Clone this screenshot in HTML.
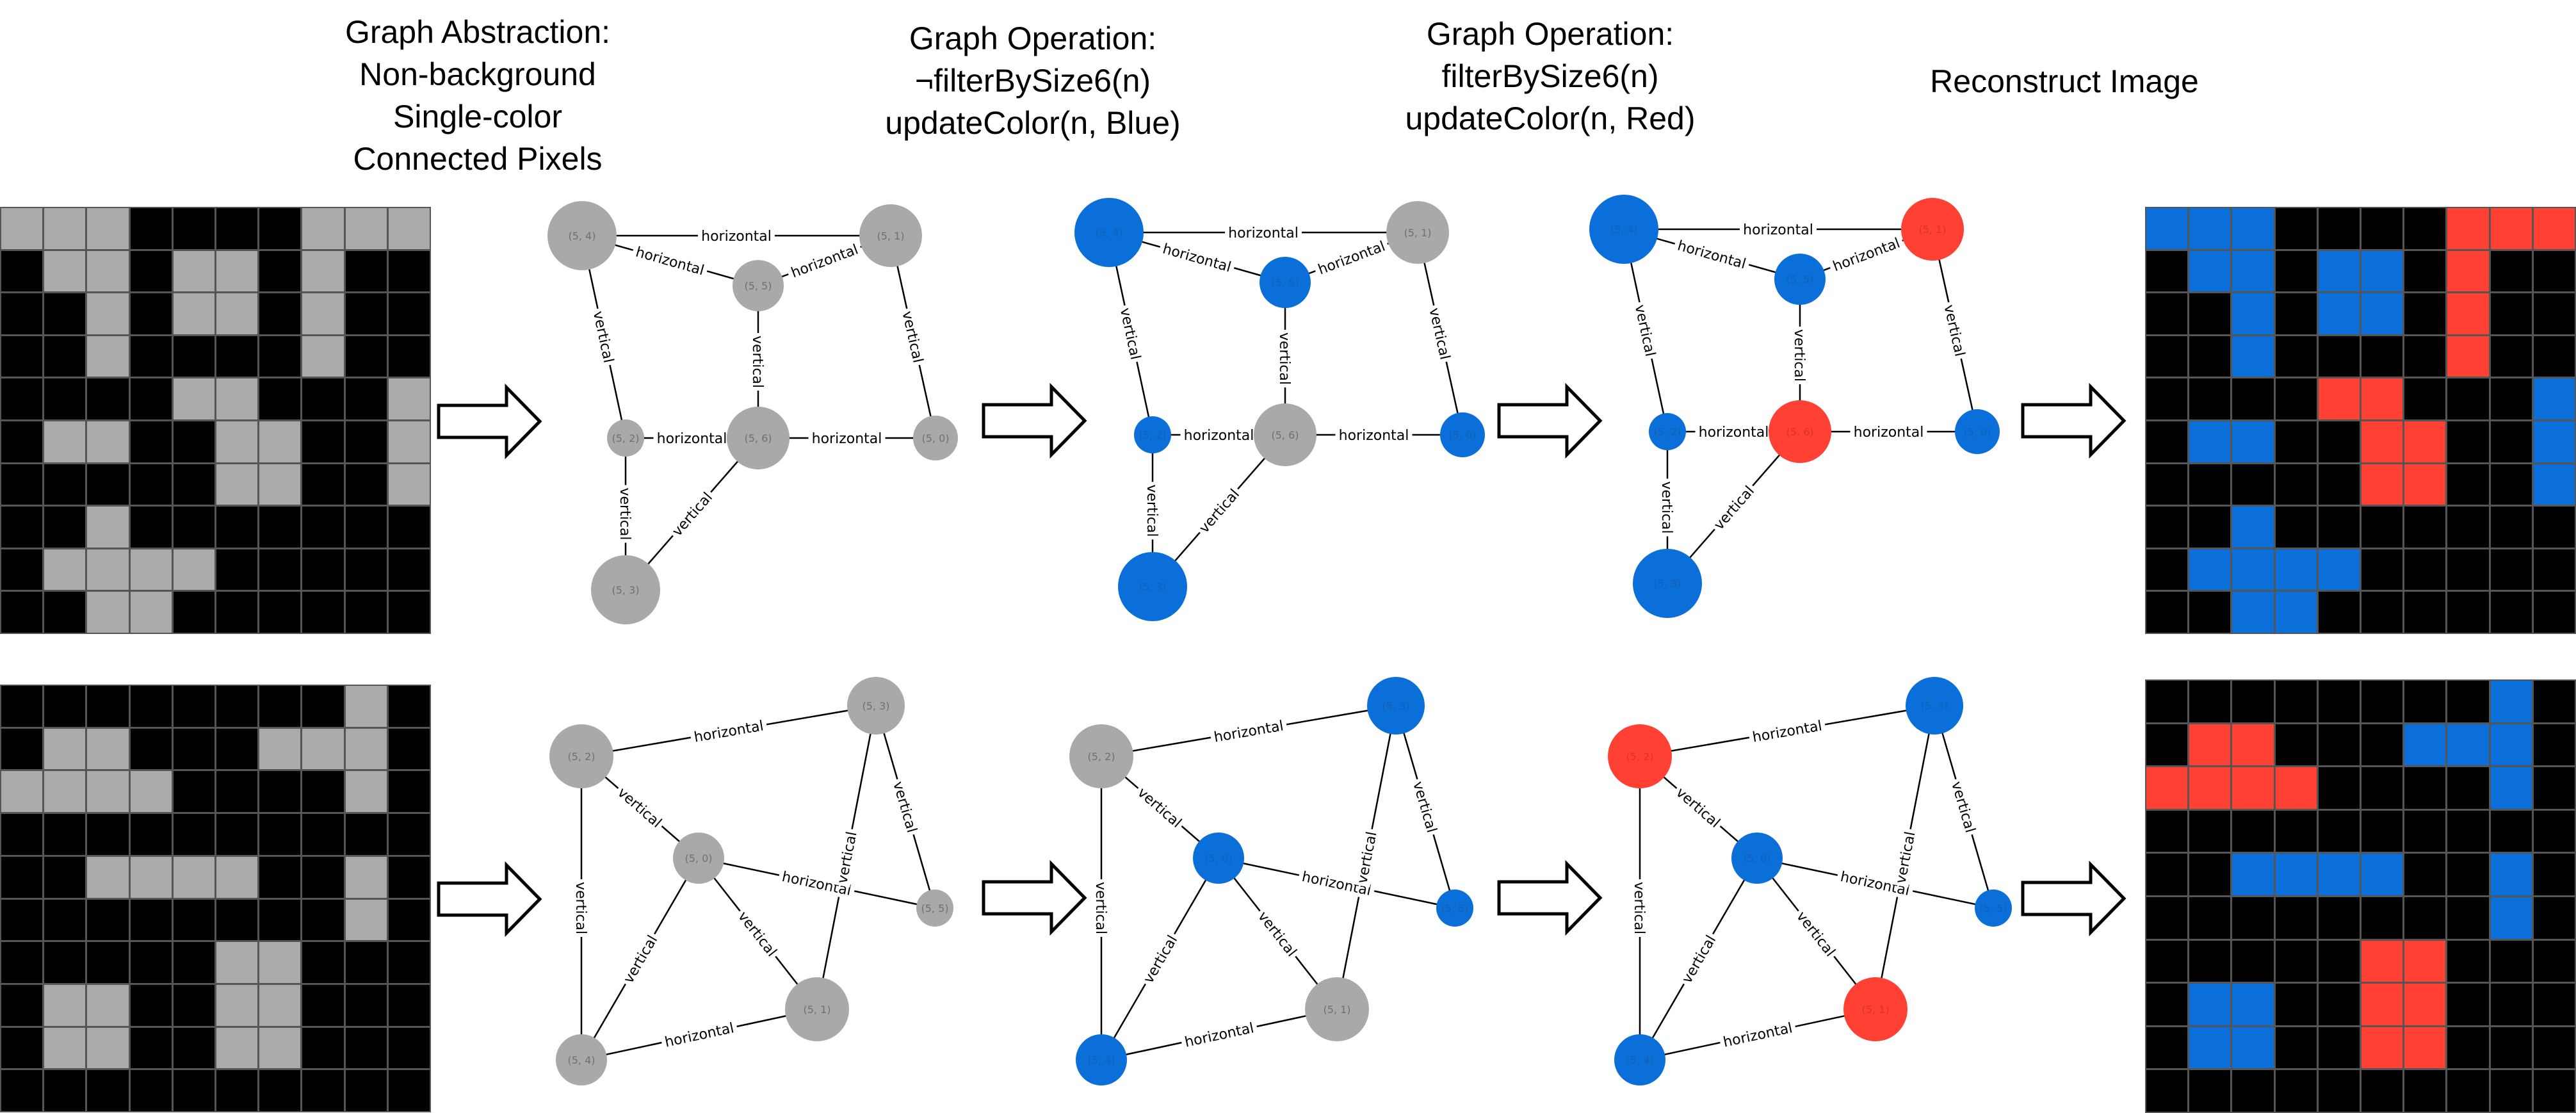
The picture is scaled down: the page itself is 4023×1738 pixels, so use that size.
<!DOCTYPE html>
<html><head><meta charset="utf-8"><style>
body{margin:0;width:4023px;height:1738px;background:#fff;position:relative;overflow:hidden;font-family:"Liberation Sans",Arial,sans-serif}
.t{position:absolute;font-size:50px;line-height:66px;text-align:center;color:#000;white-space:nowrap;transform:translateX(-50%)}
.g{position:absolute;display:grid;grid-template-columns:repeat(10,1fr);grid-template-rows:repeat(10,1fr);gap:3px;background:#555;padding:2px;box-sizing:border-box}
.g i{display:block}
.z{background:#000}.a{background:#aaa}.b{background:#0a6fd8}.r{background:#ff4033}
svg{position:absolute;left:0;top:0}
svg text{font-family:"DejaVu Sans",sans-serif}
.el{font-size:22px;text-anchor:middle;fill:#000}
.nl{font-size:16px;text-anchor:middle}
</style></head><body>
<div class="t" style="left:746px;top:17px">Graph Abstraction:<br>Non-background<br>Single-color<br>Connected Pixels</div>
<div class="t" style="left:1613px;top:27px">Graph Operation:<br>¬filterBySize6(n)<br>updateColor(n, Blue)</div>
<div class="t" style="left:2421px;top:20px">Graph Operation:<br>filterBySize6(n)<br>updateColor(n, Red)</div>
<div class="t" style="left:3224px;top:94px">Reconstruct Image</div>

<div class="g" style="left:0;top:323px;width:673px;height:667px">
<i class=a></i><i class=a></i><i class=a></i><i class=z></i><i class=z></i><i class=z></i><i class=z></i><i class=a></i><i class=a></i><i class=a></i>
<i class=z></i><i class=a></i><i class=a></i><i class=z></i><i class=a></i><i class=a></i><i class=z></i><i class=a></i><i class=z></i><i class=z></i>
<i class=z></i><i class=z></i><i class=a></i><i class=z></i><i class=a></i><i class=a></i><i class=z></i><i class=a></i><i class=z></i><i class=z></i>
<i class=z></i><i class=z></i><i class=a></i><i class=z></i><i class=z></i><i class=z></i><i class=z></i><i class=a></i><i class=z></i><i class=z></i>
<i class=z></i><i class=z></i><i class=z></i><i class=z></i><i class=a></i><i class=a></i><i class=z></i><i class=z></i><i class=z></i><i class=a></i>
<i class=z></i><i class=a></i><i class=a></i><i class=z></i><i class=z></i><i class=a></i><i class=a></i><i class=z></i><i class=z></i><i class=a></i>
<i class=z></i><i class=z></i><i class=z></i><i class=z></i><i class=z></i><i class=a></i><i class=a></i><i class=z></i><i class=z></i><i class=a></i>
<i class=z></i><i class=z></i><i class=a></i><i class=z></i><i class=z></i><i class=z></i><i class=z></i><i class=z></i><i class=z></i><i class=z></i>
<i class=z></i><i class=a></i><i class=a></i><i class=a></i><i class=a></i><i class=z></i><i class=z></i><i class=z></i><i class=z></i><i class=z></i>
<i class=z></i><i class=z></i><i class=a></i><i class=a></i><i class=z></i><i class=z></i><i class=z></i><i class=z></i><i class=z></i><i class=z></i>
</div>

<div class="g" style="left:3350px;top:323px;width:673px;height:667px">
<i class=b></i><i class=b></i><i class=b></i><i class=z></i><i class=z></i><i class=z></i><i class=z></i><i class=r></i><i class=r></i><i class=r></i>
<i class=z></i><i class=b></i><i class=b></i><i class=z></i><i class=b></i><i class=b></i><i class=z></i><i class=r></i><i class=z></i><i class=z></i>
<i class=z></i><i class=z></i><i class=b></i><i class=z></i><i class=b></i><i class=b></i><i class=z></i><i class=r></i><i class=z></i><i class=z></i>
<i class=z></i><i class=z></i><i class=b></i><i class=z></i><i class=z></i><i class=z></i><i class=z></i><i class=r></i><i class=z></i><i class=z></i>
<i class=z></i><i class=z></i><i class=z></i><i class=z></i><i class=r></i><i class=r></i><i class=z></i><i class=z></i><i class=z></i><i class=b></i>
<i class=z></i><i class=b></i><i class=b></i><i class=z></i><i class=z></i><i class=r></i><i class=r></i><i class=z></i><i class=z></i><i class=b></i>
<i class=z></i><i class=z></i><i class=z></i><i class=z></i><i class=z></i><i class=r></i><i class=r></i><i class=z></i><i class=z></i><i class=b></i>
<i class=z></i><i class=z></i><i class=b></i><i class=z></i><i class=z></i><i class=z></i><i class=z></i><i class=z></i><i class=z></i><i class=z></i>
<i class=z></i><i class=b></i><i class=b></i><i class=b></i><i class=b></i><i class=z></i><i class=z></i><i class=z></i><i class=z></i><i class=z></i>
<i class=z></i><i class=z></i><i class=b></i><i class=b></i><i class=z></i><i class=z></i><i class=z></i><i class=z></i><i class=z></i><i class=z></i>
</div>

<div class="g" style="left:0;top:1069px;width:673px;height:668px">
<i class=z></i><i class=z></i><i class=z></i><i class=z></i><i class=z></i><i class=z></i><i class=z></i><i class=z></i><i class=a></i><i class=z></i>
<i class=z></i><i class=a></i><i class=a></i><i class=z></i><i class=z></i><i class=z></i><i class=a></i><i class=a></i><i class=a></i><i class=z></i>
<i class=a></i><i class=a></i><i class=a></i><i class=a></i><i class=z></i><i class=z></i><i class=z></i><i class=z></i><i class=a></i><i class=z></i>
<i class=z></i><i class=z></i><i class=z></i><i class=z></i><i class=z></i><i class=z></i><i class=z></i><i class=z></i><i class=z></i><i class=z></i>
<i class=z></i><i class=z></i><i class=a></i><i class=a></i><i class=a></i><i class=a></i><i class=z></i><i class=z></i><i class=a></i><i class=z></i>
<i class=z></i><i class=z></i><i class=z></i><i class=z></i><i class=z></i><i class=z></i><i class=z></i><i class=z></i><i class=a></i><i class=z></i>
<i class=z></i><i class=z></i><i class=z></i><i class=z></i><i class=z></i><i class=a></i><i class=a></i><i class=z></i><i class=z></i><i class=z></i>
<i class=z></i><i class=a></i><i class=a></i><i class=z></i><i class=z></i><i class=a></i><i class=a></i><i class=z></i><i class=z></i><i class=z></i>
<i class=z></i><i class=a></i><i class=a></i><i class=z></i><i class=z></i><i class=a></i><i class=a></i><i class=z></i><i class=z></i><i class=z></i>
<i class=z></i><i class=z></i><i class=z></i><i class=z></i><i class=z></i><i class=z></i><i class=z></i><i class=z></i><i class=z></i><i class=z></i>
</div>

<div class="g" style="left:3350px;top:1061px;width:673px;height:677px">
<i class=z></i><i class=z></i><i class=z></i><i class=z></i><i class=z></i><i class=z></i><i class=z></i><i class=z></i><i class=b></i><i class=z></i>
<i class=z></i><i class=r></i><i class=r></i><i class=z></i><i class=z></i><i class=z></i><i class=b></i><i class=b></i><i class=b></i><i class=z></i>
<i class=r></i><i class=r></i><i class=r></i><i class=r></i><i class=z></i><i class=z></i><i class=z></i><i class=z></i><i class=b></i><i class=z></i>
<i class=z></i><i class=z></i><i class=z></i><i class=z></i><i class=z></i><i class=z></i><i class=z></i><i class=z></i><i class=z></i><i class=z></i>
<i class=z></i><i class=z></i><i class=b></i><i class=b></i><i class=b></i><i class=b></i><i class=z></i><i class=z></i><i class=b></i><i class=z></i>
<i class=z></i><i class=z></i><i class=z></i><i class=z></i><i class=z></i><i class=z></i><i class=z></i><i class=z></i><i class=b></i><i class=z></i>
<i class=z></i><i class=z></i><i class=z></i><i class=z></i><i class=z></i><i class=r></i><i class=r></i><i class=z></i><i class=z></i><i class=z></i>
<i class=z></i><i class=b></i><i class=b></i><i class=z></i><i class=z></i><i class=r></i><i class=r></i><i class=z></i><i class=z></i><i class=z></i>
<i class=z></i><i class=b></i><i class=b></i><i class=z></i><i class=z></i><i class=r></i><i class=r></i><i class=z></i><i class=z></i><i class=z></i>
<i class=z></i><i class=z></i><i class=z></i><i class=z></i><i class=z></i><i class=z></i><i class=z></i><i class=z></i><i class=z></i><i class=z></i>
</div>

<svg width="4023" height="1738" viewBox="0 0 4023 1738">
<!-- arrows -->
<g fill="#fff" stroke="#000" stroke-width="5" stroke-linejoin="miter">
<polygon transform="translate(685,658)" points="0,-25 106,-25 106,-53 158,0 106,53 106,25 0,25"/>
<polygon transform="translate(1536,657)" points="0,-25 106,-25 106,-53 158,0 106,53 106,25 0,25"/>
<polygon transform="translate(2341,657)" points="0,-25 106,-25 106,-53 158,0 106,53 106,25 0,25"/>
<polygon transform="translate(3159,657)" points="0,-25 106,-25 106,-53 158,0 106,53 106,25 0,25"/>
<polygon transform="translate(685,1404)" points="0,-25 106,-25 106,-53 158,0 106,53 106,25 0,25"/>
<polygon transform="translate(1536,1402)" points="0,-25 106,-25 106,-53 158,0 106,53 106,25 0,25"/>
<polygon transform="translate(2341,1402)" points="0,-25 106,-25 106,-53 158,0 106,53 106,25 0,25"/>
<polygon transform="translate(3159,1403)" points="0,-25 106,-25 106,-53 158,0 106,53 106,25 0,25"/>
</g>

<!-- TOP GRAPH 1 -->
<g>
<g stroke="#000" stroke-width="2.5">
<line x1="909" y1="368" x2="1391" y2="368"/><line x1="909" y1="368" x2="1184" y2="446"/><line x1="1184" y1="446" x2="1391" y2="368"/>
<line x1="909" y1="368" x2="977" y2="684"/><line x1="1184" y1="446" x2="1184" y2="684"/><line x1="1391" y1="368" x2="1461" y2="684"/>
<line x1="977" y1="684" x2="1184" y2="684"/><line x1="1184" y1="684" x2="1461" y2="684"/><line x1="977" y1="684" x2="977" y2="921"/><line x1="1184" y1="684" x2="977" y2="921"/>
</g>
<g transform="translate(1150,368)"><rect x="-60" y="-14" width="120" height="28" fill="#fff"/><text class="el" y="8">horizontal</text></g>
<g transform="translate(1046.5,407) rotate(15.8)"><rect x="-60" y="-14" width="120" height="28" fill="#fff"/><text class="el" y="8">horizontal</text></g>
<g transform="translate(1287.5,407) rotate(-20.6)"><rect x="-60" y="-14" width="120" height="28" fill="#fff"/><text class="el" y="8">horizontal</text></g>
<g transform="translate(943,526) rotate(77.9)"><rect x="-45" y="-14" width="90" height="28" fill="#fff"/><text class="el" y="8">vertical</text></g>
<g transform="translate(1184,565) rotate(90)"><rect x="-45" y="-14" width="90" height="28" fill="#fff"/><text class="el" y="8">vertical</text></g>
<g transform="translate(1426,526) rotate(77.5)"><rect x="-45" y="-14" width="90" height="28" fill="#fff"/><text class="el" y="8">vertical</text></g>
<g transform="translate(1080.5,684)"><rect x="-60" y="-14" width="120" height="28" fill="#fff"/><text class="el" y="8">horizontal</text></g>
<g transform="translate(1322.5,684)"><rect x="-60" y="-14" width="120" height="28" fill="#fff"/><text class="el" y="8">horizontal</text></g>
<g transform="translate(977,802.5) rotate(90)"><rect x="-45" y="-14" width="90" height="28" fill="#fff"/><text class="el" y="8">vertical</text></g>
<g transform="translate(1080.5,802.5) rotate(-48.9)"><rect x="-45" y="-14" width="90" height="28" fill="#fff"/><text class="el" y="8">vertical</text></g>
<circle cx="909" cy="368" r="54" fill="#a9a9a9"/><circle cx="1391" cy="368" r="49" fill="#a9a9a9"/><circle cx="1184" cy="446" r="40" fill="#a9a9a9"/>
<circle cx="977" cy="684" r="29" fill="#a9a9a9"/><circle cx="1184" cy="684" r="49" fill="#a9a9a9"/><circle cx="1461" cy="684" r="35" fill="#a9a9a9"/><circle cx="977" cy="921" r="54" fill="#a9a9a9"/>
<g fill="#707070"><text class="nl" x="909" y="374">(5, 4)</text><text class="nl" x="1391" y="374">(5, 1)</text><text class="nl" x="1184" y="452">(5, 5)</text><text class="nl" x="977" y="690">(5, 2)</text><text class="nl" x="1184" y="690">(5, 6)</text><text class="nl" x="1461" y="690">(5, 0)</text><text class="nl" x="977" y="927">(5, 3)</text></g>
</g>

<!-- TOP GRAPH 2 -->
<g transform="translate(823,-5)">
<g stroke="#000" stroke-width="2.5">
<line x1="909" y1="368" x2="1391" y2="368"/><line x1="909" y1="368" x2="1184" y2="446"/><line x1="1184" y1="446" x2="1391" y2="368"/>
<line x1="909" y1="368" x2="977" y2="684"/><line x1="1184" y1="446" x2="1184" y2="684"/><line x1="1391" y1="368" x2="1461" y2="684"/>
<line x1="977" y1="684" x2="1184" y2="684"/><line x1="1184" y1="684" x2="1461" y2="684"/><line x1="977" y1="684" x2="977" y2="921"/><line x1="1184" y1="684" x2="977" y2="921"/>
</g>
<g transform="translate(1150,368)"><rect x="-60" y="-14" width="120" height="28" fill="#fff"/><text class="el" y="8">horizontal</text></g>
<g transform="translate(1046.5,407) rotate(15.8)"><rect x="-60" y="-14" width="120" height="28" fill="#fff"/><text class="el" y="8">horizontal</text></g>
<g transform="translate(1287.5,407) rotate(-20.6)"><rect x="-60" y="-14" width="120" height="28" fill="#fff"/><text class="el" y="8">horizontal</text></g>
<g transform="translate(943,526) rotate(77.9)"><rect x="-45" y="-14" width="90" height="28" fill="#fff"/><text class="el" y="8">vertical</text></g>
<g transform="translate(1184,565) rotate(90)"><rect x="-45" y="-14" width="90" height="28" fill="#fff"/><text class="el" y="8">vertical</text></g>
<g transform="translate(1426,526) rotate(77.5)"><rect x="-45" y="-14" width="90" height="28" fill="#fff"/><text class="el" y="8">vertical</text></g>
<g transform="translate(1080.5,684)"><rect x="-60" y="-14" width="120" height="28" fill="#fff"/><text class="el" y="8">horizontal</text></g>
<g transform="translate(1322.5,684)"><rect x="-60" y="-14" width="120" height="28" fill="#fff"/><text class="el" y="8">horizontal</text></g>
<g transform="translate(977,802.5) rotate(90)"><rect x="-45" y="-14" width="90" height="28" fill="#fff"/><text class="el" y="8">vertical</text></g>
<g transform="translate(1080.5,802.5) rotate(-48.9)"><rect x="-45" y="-14" width="90" height="28" fill="#fff"/><text class="el" y="8">vertical</text></g>
<circle cx="909" cy="368" r="54" fill="#0a6fd8"/><circle cx="1391" cy="368" r="49" fill="#a9a9a9"/><circle cx="1184" cy="446" r="40" fill="#0a6fd8"/>
<circle cx="977" cy="684" r="29" fill="#0a6fd8"/><circle cx="1184" cy="684" r="49" fill="#a9a9a9"/><circle cx="1461" cy="684" r="35" fill="#0a6fd8"/><circle cx="977" cy="921" r="54" fill="#0a6fd8"/>
<g fill="#1560b0"><text class="nl" x="909" y="374">(5, 4)</text><text class="nl" x="1184" y="452">(5, 5)</text><text class="nl" x="977" y="690">(5, 2)</text><text class="nl" x="1461" y="690">(5, 0)</text><text class="nl" x="977" y="927">(5, 3)</text></g>
<g fill="#707070"><text class="nl" x="1391" y="374">(5, 1)</text><text class="nl" x="1184" y="690">(5, 6)</text></g>
</g>

<!-- TOP GRAPH 3 -->
<g transform="translate(1627,-10)">
<g stroke="#000" stroke-width="2.5">
<line x1="909" y1="368" x2="1391" y2="368"/><line x1="909" y1="368" x2="1184" y2="446"/><line x1="1184" y1="446" x2="1391" y2="368"/>
<line x1="909" y1="368" x2="977" y2="684"/><line x1="1184" y1="446" x2="1184" y2="684"/><line x1="1391" y1="368" x2="1461" y2="684"/>
<line x1="977" y1="684" x2="1184" y2="684"/><line x1="1184" y1="684" x2="1461" y2="684"/><line x1="977" y1="684" x2="977" y2="921"/><line x1="1184" y1="684" x2="977" y2="921"/>
</g>
<g transform="translate(1150,368)"><rect x="-60" y="-14" width="120" height="28" fill="#fff"/><text class="el" y="8">horizontal</text></g>
<g transform="translate(1046.5,407) rotate(15.8)"><rect x="-60" y="-14" width="120" height="28" fill="#fff"/><text class="el" y="8">horizontal</text></g>
<g transform="translate(1287.5,407) rotate(-20.6)"><rect x="-60" y="-14" width="120" height="28" fill="#fff"/><text class="el" y="8">horizontal</text></g>
<g transform="translate(943,526) rotate(77.9)"><rect x="-45" y="-14" width="90" height="28" fill="#fff"/><text class="el" y="8">vertical</text></g>
<g transform="translate(1184,565) rotate(90)"><rect x="-45" y="-14" width="90" height="28" fill="#fff"/><text class="el" y="8">vertical</text></g>
<g transform="translate(1426,526) rotate(77.5)"><rect x="-45" y="-14" width="90" height="28" fill="#fff"/><text class="el" y="8">vertical</text></g>
<g transform="translate(1080.5,684)"><rect x="-60" y="-14" width="120" height="28" fill="#fff"/><text class="el" y="8">horizontal</text></g>
<g transform="translate(1322.5,684)"><rect x="-60" y="-14" width="120" height="28" fill="#fff"/><text class="el" y="8">horizontal</text></g>
<g transform="translate(977,802.5) rotate(90)"><rect x="-45" y="-14" width="90" height="28" fill="#fff"/><text class="el" y="8">vertical</text></g>
<g transform="translate(1080.5,802.5) rotate(-48.9)"><rect x="-45" y="-14" width="90" height="28" fill="#fff"/><text class="el" y="8">vertical</text></g>
<circle cx="909" cy="368" r="54" fill="#0a6fd8"/><circle cx="1391" cy="368" r="49" fill="#ff4033"/><circle cx="1184" cy="446" r="40" fill="#0a6fd8"/>
<circle cx="977" cy="684" r="29" fill="#0a6fd8"/><circle cx="1184" cy="684" r="49" fill="#ff4033"/><circle cx="1461" cy="684" r="35" fill="#0a6fd8"/><circle cx="977" cy="921" r="54" fill="#0a6fd8"/>
<g fill="#1560b0"><text class="nl" x="909" y="374">(5, 4)</text><text class="nl" x="1184" y="452">(5, 5)</text><text class="nl" x="977" y="690">(5, 2)</text><text class="nl" x="1461" y="690">(5, 0)</text><text class="nl" x="977" y="927">(5, 3)</text></g>
<g fill="#d6352b"><text class="nl" x="1391" y="374">(5, 1)</text><text class="nl" x="1184" y="690">(5, 6)</text></g>
</g>

<!-- BOTTOM GRAPH 1 -->
<g>
<g stroke="#000" stroke-width="2.5">
<line x1="908" y1="1181" x2="1368" y2="1102"/><line x1="908" y1="1181" x2="1091" y2="1340"/><line x1="908" y1="1181" x2="908" y2="1655"/>
<line x1="1368" y1="1102" x2="1276" y2="1576"/><line x1="1368" y1="1102" x2="1460" y2="1418"/><line x1="1091" y1="1340" x2="1460" y2="1418"/>
<line x1="1091" y1="1340" x2="908" y2="1655"/><line x1="1091" y1="1340" x2="1276" y2="1576"/><line x1="908" y1="1655" x2="1276" y2="1576"/>
</g>
<g transform="translate(1138,1141.5) rotate(-9.7)"><rect x="-60" y="-14" width="120" height="28" fill="#fff"/><text class="el" y="8">horizontal</text></g>
<g transform="translate(999.5,1260.5) rotate(41)"><rect x="-45" y="-14" width="90" height="28" fill="#fff"/><text class="el" y="8">vertical</text></g>
<g transform="translate(908,1418) rotate(90)"><rect x="-45" y="-14" width="90" height="28" fill="#fff"/><text class="el" y="8">vertical</text></g>
<g transform="translate(1275.5,1379) rotate(11.9)"><rect x="-60" y="-14" width="120" height="28" fill="#fff"/><text class="el" y="8">horizontal</text></g>
<g transform="translate(1322,1339) rotate(-79)"><rect x="-45" y="-14" width="90" height="28" fill="#fff"/><text class="el" y="8">vertical</text></g>
<g transform="translate(1414,1260) rotate(73.8)"><rect x="-45" y="-14" width="90" height="28" fill="#fff"/><text class="el" y="8">vertical</text></g>
<g transform="translate(999.5,1497.5) rotate(-59.8)"><rect x="-45" y="-14" width="90" height="28" fill="#fff"/><text class="el" y="8">vertical</text></g>
<g transform="translate(1183.5,1458) rotate(51.9)"><rect x="-45" y="-14" width="90" height="28" fill="#fff"/><text class="el" y="8">vertical</text></g>
<g transform="translate(1092,1615.5) rotate(-12.1)"><rect x="-60" y="-14" width="120" height="28" fill="#fff"/><text class="el" y="8">horizontal</text></g>
<circle cx="1368" cy="1102" r="45" fill="#a9a9a9"/><circle cx="908" cy="1181" r="50" fill="#a9a9a9"/><circle cx="1091" cy="1340" r="40" fill="#a9a9a9"/>
<circle cx="1460" cy="1418" r="29" fill="#a9a9a9"/><circle cx="1276" cy="1576" r="50" fill="#a9a9a9"/><circle cx="908" cy="1655" r="40" fill="#a9a9a9"/>
<g fill="#707070"><text class="nl" x="1368" y="1108">(5, 3)</text><text class="nl" x="908" y="1187">(5, 2)</text><text class="nl" x="1091" y="1346">(5, 0)</text><text class="nl" x="1460" y="1424">(5, 5)</text><text class="nl" x="1276" y="1582">(5, 1)</text><text class="nl" x="908" y="1661">(5, 4)</text></g>
</g>

<!-- BOTTOM GRAPH 2 -->
<g transform="translate(812,0)">
<g stroke="#000" stroke-width="2.5">
<line x1="908" y1="1181" x2="1368" y2="1102"/><line x1="908" y1="1181" x2="1091" y2="1340"/><line x1="908" y1="1181" x2="908" y2="1655"/>
<line x1="1368" y1="1102" x2="1276" y2="1576"/><line x1="1368" y1="1102" x2="1460" y2="1418"/><line x1="1091" y1="1340" x2="1460" y2="1418"/>
<line x1="1091" y1="1340" x2="908" y2="1655"/><line x1="1091" y1="1340" x2="1276" y2="1576"/><line x1="908" y1="1655" x2="1276" y2="1576"/>
</g>
<g transform="translate(1138,1141.5) rotate(-9.7)"><rect x="-60" y="-14" width="120" height="28" fill="#fff"/><text class="el" y="8">horizontal</text></g>
<g transform="translate(999.5,1260.5) rotate(41)"><rect x="-45" y="-14" width="90" height="28" fill="#fff"/><text class="el" y="8">vertical</text></g>
<g transform="translate(908,1418) rotate(90)"><rect x="-45" y="-14" width="90" height="28" fill="#fff"/><text class="el" y="8">vertical</text></g>
<g transform="translate(1275.5,1379) rotate(11.9)"><rect x="-60" y="-14" width="120" height="28" fill="#fff"/><text class="el" y="8">horizontal</text></g>
<g transform="translate(1322,1339) rotate(-79)"><rect x="-45" y="-14" width="90" height="28" fill="#fff"/><text class="el" y="8">vertical</text></g>
<g transform="translate(1414,1260) rotate(73.8)"><rect x="-45" y="-14" width="90" height="28" fill="#fff"/><text class="el" y="8">vertical</text></g>
<g transform="translate(999.5,1497.5) rotate(-59.8)"><rect x="-45" y="-14" width="90" height="28" fill="#fff"/><text class="el" y="8">vertical</text></g>
<g transform="translate(1183.5,1458) rotate(51.9)"><rect x="-45" y="-14" width="90" height="28" fill="#fff"/><text class="el" y="8">vertical</text></g>
<g transform="translate(1092,1615.5) rotate(-12.1)"><rect x="-60" y="-14" width="120" height="28" fill="#fff"/><text class="el" y="8">horizontal</text></g>
<circle cx="1368" cy="1102" r="45" fill="#0a6fd8"/><circle cx="908" cy="1181" r="50" fill="#a9a9a9"/><circle cx="1091" cy="1340" r="40" fill="#0a6fd8"/>
<circle cx="1460" cy="1418" r="29" fill="#0a6fd8"/><circle cx="1276" cy="1576" r="50" fill="#a9a9a9"/><circle cx="908" cy="1655" r="40" fill="#0a6fd8"/>
<g fill="#1560b0"><text class="nl" x="1368" y="1108">(5, 3)</text><text class="nl" x="1091" y="1346">(5, 0)</text><text class="nl" x="1460" y="1424">(5, 5)</text><text class="nl" x="908" y="1661">(5, 4)</text></g>
<g fill="#707070"><text class="nl" x="908" y="1187">(5, 2)</text><text class="nl" x="1276" y="1582">(5, 1)</text></g>
</g>

<!-- BOTTOM GRAPH 3 -->
<g transform="translate(1653,0)">
<g stroke="#000" stroke-width="2.5">
<line x1="908" y1="1181" x2="1368" y2="1102"/><line x1="908" y1="1181" x2="1091" y2="1340"/><line x1="908" y1="1181" x2="908" y2="1655"/>
<line x1="1368" y1="1102" x2="1276" y2="1576"/><line x1="1368" y1="1102" x2="1460" y2="1418"/><line x1="1091" y1="1340" x2="1460" y2="1418"/>
<line x1="1091" y1="1340" x2="908" y2="1655"/><line x1="1091" y1="1340" x2="1276" y2="1576"/><line x1="908" y1="1655" x2="1276" y2="1576"/>
</g>
<g transform="translate(1138,1141.5) rotate(-9.7)"><rect x="-60" y="-14" width="120" height="28" fill="#fff"/><text class="el" y="8">horizontal</text></g>
<g transform="translate(999.5,1260.5) rotate(41)"><rect x="-45" y="-14" width="90" height="28" fill="#fff"/><text class="el" y="8">vertical</text></g>
<g transform="translate(908,1418) rotate(90)"><rect x="-45" y="-14" width="90" height="28" fill="#fff"/><text class="el" y="8">vertical</text></g>
<g transform="translate(1275.5,1379) rotate(11.9)"><rect x="-60" y="-14" width="120" height="28" fill="#fff"/><text class="el" y="8">horizontal</text></g>
<g transform="translate(1322,1339) rotate(-79)"><rect x="-45" y="-14" width="90" height="28" fill="#fff"/><text class="el" y="8">vertical</text></g>
<g transform="translate(1414,1260) rotate(73.8)"><rect x="-45" y="-14" width="90" height="28" fill="#fff"/><text class="el" y="8">vertical</text></g>
<g transform="translate(999.5,1497.5) rotate(-59.8)"><rect x="-45" y="-14" width="90" height="28" fill="#fff"/><text class="el" y="8">vertical</text></g>
<g transform="translate(1183.5,1458) rotate(51.9)"><rect x="-45" y="-14" width="90" height="28" fill="#fff"/><text class="el" y="8">vertical</text></g>
<g transform="translate(1092,1615.5) rotate(-12.1)"><rect x="-60" y="-14" width="120" height="28" fill="#fff"/><text class="el" y="8">horizontal</text></g>
<circle cx="1368" cy="1102" r="45" fill="#0a6fd8"/><circle cx="908" cy="1181" r="50" fill="#ff4033"/><circle cx="1091" cy="1340" r="40" fill="#0a6fd8"/>
<circle cx="1460" cy="1418" r="29" fill="#0a6fd8"/><circle cx="1276" cy="1576" r="50" fill="#ff4033"/><circle cx="908" cy="1655" r="40" fill="#0a6fd8"/>
<g fill="#1560b0"><text class="nl" x="1368" y="1108">(5, 3)</text><text class="nl" x="1091" y="1346">(5, 0)</text><text class="nl" x="1460" y="1424">(5, 5)</text><text class="nl" x="908" y="1661">(5, 4)</text></g>
<g fill="#d6352b"><text class="nl" x="908" y="1187">(5, 2)</text><text class="nl" x="1276" y="1582">(5, 1)</text></g>
</g>
</svg>
</body></html>
